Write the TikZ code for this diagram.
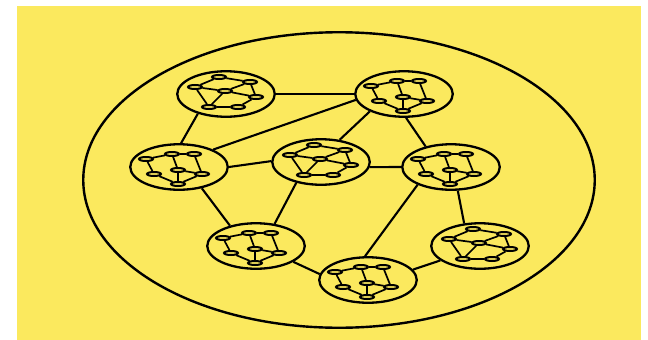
\documentclass[tikz,border=0pt]{standalone}
\usepackage{xcolor}
\usepackage{tikz}
\usetikzlibrary{shapes.geometric}
\definecolor{cSun}{HTML}{FBE95E}
\definecolor{cInk}{HTML}{000000}
\tikzset{
  clu/.style={draw=cInk,ellipse,line width=2.3pt,minimum width=97.5pt,minimum height=45.5pt,inner sep=0pt},
  mini/.style={draw=cInk,ellipse,line width=2pt,minimum width=14pt,minimum height=4pt,inner sep=0pt},
  lnk/.style={line width=2.1pt,color=cInk},
  wire/.style={line width=1.7pt,color=cInk},
}
\begin{document}
\begin{tikzpicture}[x=1pt,y=-1pt]
    \useasboundingbox (0,0) rectangle (648,340);
    \fill[cSun] (17,6) rectangle (641,340);
    \node[draw=cInk,ellipse,line width=2.4pt,minimum width=511.5pt,minimum height=295.5pt,inner sep=0pt] (world) at (339,180) {};
    % clusters
    \foreach \n/\x/\y in {c1/226/94,c2/404/94,c3/179/167,c4/321/162,c5/451/167,c6/256/246,c7/368/280,c8/480/246}
      \node[clu] (\n) at (\x,\y) {};
    % ring-shaped inner graphs
    \foreach \n in {c1,c4,c8}
      {\begin{scope}[shift={(\n.center)}]
         \foreach \k/\dx/\dy in {1/-7/-17,2/24/-12,3/-31/-7,4/-1/-3,5/30/3,6/-17/13,7/12/13}
           \node[mini] (\n-\k) at (\dx,\dy) {};
         \foreach \a/\b in {3/1,1/2,3/4,3/6,4/2,4/6,4/5,2/5,5/7,6/7}
           \draw[wire] (\n-\a) -- (\n-\b);
       \end{scope}}
    % tree-shaped inner graphs
    \foreach \n in {c2,c3,c5,c6,c7}
      {\begin{scope}[shift={(\n.center)}]
         \foreach \k/\dx/\dy in {1/-33/-8,2/-7/-13,3/15/-13,4/-1/3,5/-25/7,6/23/7,7/-1/17}
           \node[mini] (\n-\k) at (\dx,\dy) {};
         \foreach \a/\b in {1/2,2/3,1/5,2/4,3/6,4/6,4/7,5/7,6/7}
           \draw[wire] (\n-\a) -- (\n-\b);
       \end{scope}}
    % links between clusters
    \draw[lnk] (c1.0) -- (c2.180);
    \draw[lnk] (c1.215) -- (c3.85);
    \draw[lnk] (c2.187) -- (c3.27);
    \draw[lnk] (c3.0) -- (c4.179);
    \draw[lnk] (c2.207) -- (c4.50);
    \draw[lnk] (c2.275) -- (c5.141);
    \draw[lnk] (c4.354) -- (c5.180);
    \draw[lnk] (c3.317) -- (c6.142);
    \draw[lnk] (c4.220) -- (c6.50);
    \draw[lnk] (c5.208) -- (c7.97);
    \draw[lnk] (c6.337) -- (c7.173);
    \draw[lnk] (c7.13) -- (c8.200);
    \draw[lnk] (c5.286) -- (c8.125);
  \end{tikzpicture}
\end{document}
